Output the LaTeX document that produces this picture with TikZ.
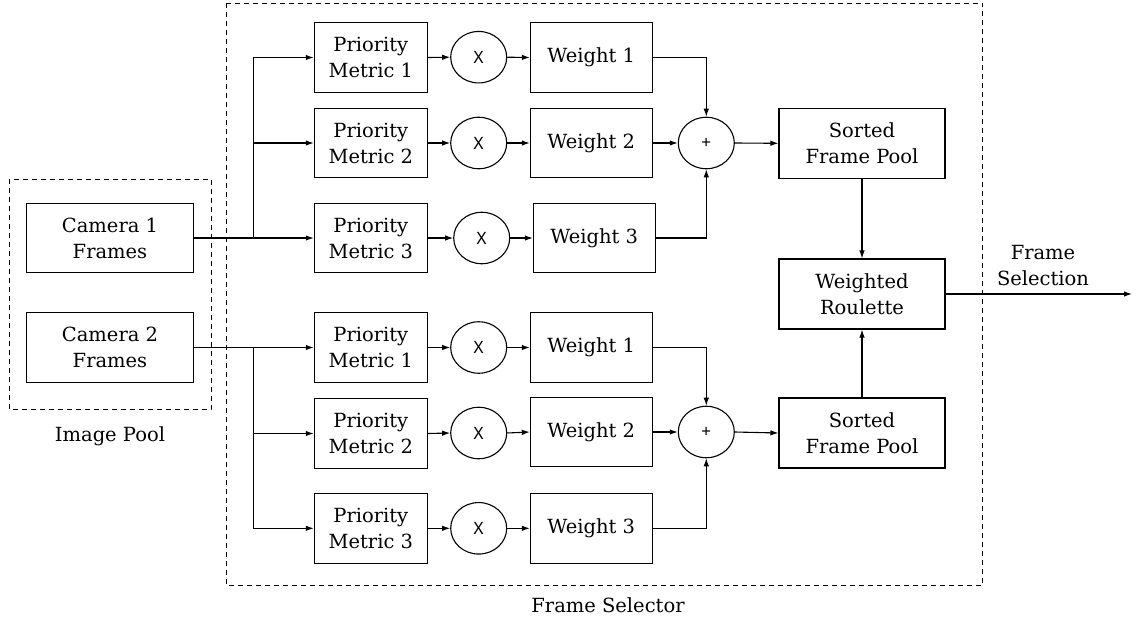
\documentclass[tikz,border=0pt]{standalone}
\usepackage{fontspec}
\setmainfont{DejaVu Serif}
\newfontfamily\opfont{Noto Sans}
\usetikzlibrary{arrows.meta,shapes.geometric}
\begin{document}
\begin{tikzpicture}[x=1pt,y=-1pt,
  every node/.style={font=\fontsize{19.5}{26}\selectfont},
  blk/.style={draw,line width=1.1pt,rectangle,inner sep=0pt,align=center,minimum height=69.6pt},
  camblk/.style={blk,minimum width=166.6pt},
  pmblk/.style={blk,minimum width=113pt},
  wblk/.style={blk,minimum width=121.7pt},
  sblk/.style={blk,minimum width=166pt,minimum height=70pt},
  opnode/.style={draw,line width=1.1pt,ellipse,inner sep=0pt,minimum width=56pt,minimum height=51.5pt,font=\opfont\fontsize{17}{20}\selectfont},
  arr/.style={line width=1.1pt,-{Latex[length=8pt,width=5.5pt]}},
  ln/.style={line width=1.1pt},
  grp/.style={line width=1pt,dash pattern=on 5pt off 4pt},
  lbl/.style={anchor=base,inner sep=0pt}]
\useasboundingbox (0,0) rectangle (1136,621);

% group boxes
\draw[grp] (9,179) rectangle (211,409.3);
\draw[grp] (226.7,3) rectangle (982.7,585.7);
\node[lbl] (imgpool) at (110,441.7) {Image Pool};
\node[lbl] (fsel) at (608,612.5) {Frame Selector};

% cameras
\node[camblk] (cam1) at (110,238) {Camera 1\\Frames};
\node[camblk] (cam2) at (110,347.5) {Camera 2\\Frames};

% priority metrics
\node[pmblk] (pm1) at (370.8,57.5) {Priority\\Metric 1};
\node[pmblk] (pm2) at (370.8,143) {Priority\\Metric 2};
\node[pmblk] (pm3) at (370.8,238) {Priority\\Metric 3};
\node[pmblk] (pm4) at (370.8,347.5) {Priority\\Metric 1};
\node[pmblk] (pm5) at (370.8,433.5) {Priority\\Metric 2};
\node[pmblk] (pm6) at (370.8,528.3) {Priority\\Metric 3};

% multiply nodes
\node[opnode] (x1) at (478.7,57.2) {X};
\node[opnode] (x2) at (478.7,143) {X};
\node[opnode] (x3) at (481.7,238) {X};
\node[opnode] (x4) at (478.7,347.5) {X};
\node[opnode] (x5) at (478.7,433) {X};
\node[opnode] (x6) at (478.7,528.3) {X};

% weights
\node[wblk] (w1) at (591.2,57.5) {Weight 1};
\node[wblk] (w2) at (591.2,143) {Weight 2};
\node[wblk] (w3) at (594.2,238) {Weight 3};
\node[wblk] (w4) at (591.2,347.5) {Weight 1};
\node[wblk] (w5) at (591.2,432) {Weight 2};
\node[wblk] (w6) at (591.2,528.3) {Weight 3};

% sums
\node[opnode] (p1) at (706.3,143) {+};
\node[opnode] (p2) at (706.3,432) {+};

% sorted pools and roulette
\node[sblk] (s1) at (862,143.3) {Sorted\\Frame Pool};
\node[sblk] (s2) at (862,433) {Sorted\\Frame Pool};
\node[sblk] (wr) at (862,294) {Weighted\\Roulette};

\coordinate (out) at (1132,294);
\node[lbl] (fs1) at (1043,259.3) {Frame};
\node[lbl] (fs2) at (1043,285.7) {Selection};

% camera 1 fan-out
\coordinate (b1) at (253.3,238);
\draw[arr] (cam1.east) -- (pm3.west);
\draw[arr] (b1) |- (pm1.west);
\draw[arr] (b1) |- (pm2.west);
% camera 2 fan-out
\coordinate (b2) at (253.3,347.5);
\draw[arr] (cam2.east) -- (pm4.west);
\draw[arr] (b2) |- (pm5.west);
\draw[arr] (b2) |- (pm6.west);

% rows
\foreach \i in {1,...,6}{
  \draw[arr] (pm\i.east) -- (x\i.west);
  \draw[arr] (x\i.east) -- (w\i.west);
}

% sums
\draw[arr] (w1.east) -| (p1.north);
\draw[arr] (w2.east) -- (p1.west);
\draw[arr] (w3.east) -| (p1.south);
\draw[arr] (w4.east) -| (p2.north);
\draw[arr] (w5.east) -- (p2.west);
\draw[arr] (w6.east) -| (p2.south);

\draw[arr] (p1.east) -- (s1.west);
\draw[arr] (p2.east) -- (s2.west);
\draw[arr] (s1.south) -- (wr.north);
\draw[arr] (s2.north) -- (wr.south);
\draw[arr] (wr.east) -- (out);
\end{tikzpicture}
\end{document}
